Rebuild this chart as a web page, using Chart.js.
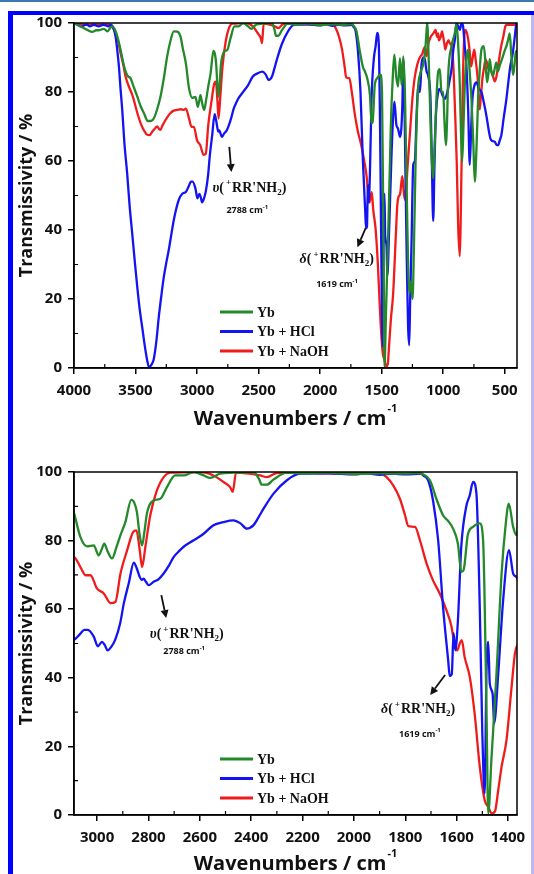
<!DOCTYPE html>
<html>
<head>
<meta charset="utf-8">
<script src="https://cdn.jsdelivr.net/npm/chart.js@4.4.1/dist/chart.umd.min.js"></script>
<style>
  html, body { margin: 0; padding: 0; background: #fff; }
  body { width: 534px; height: 874px; position: relative; overflow: hidden; }
  canvas { position: absolute; left: 0; }
  #topChart { top: 0; }
  #bottomChart { top: 437px; }
  .topline { position: absolute; left: 0; top: 0; width: 534px; height: 2px; background: #3a78b0; }
  .frame { position: absolute; left: 8px; top: 11px; width: 530px; height: 880px;
           border-left: 5px solid #0000ff; border-top: 4px solid #0000ff; }
  .rightedge { position: absolute; left: 531px; top: 15px; width: 3px; height: 859px; background: #b8b8f6; }
</style>
</head>
<body>
<canvas id="topChart" width="534" height="437"></canvas>
<canvas id="bottomChart" width="534" height="437"></canvas>
<div class="topline"></div>
<div class="frame"></div>
<div class="rightedge"></div>
<script>
// ---- FTIR spectra: wavenumber (cm-1) and transmissivity (%) ----
const ybWn = [4000,3980,3946,3920,3892,3851,3820,3797,3757,3730,3700,3689,3662,3640,3622,3600,3581,3560,3541,3520,3486,3460,3432,3400,3380,3351,3320,3297,3270,3243,3215,3189,3160,3135,3115,3091,3065,3039,3013,2994,2982,2972,2960,2942,2925,2909,2890,2867,2855,2845,2835,2825,2815,2806,2780,2754,2728,2696,2663,2624,2585,2560,2521,2469,2391,2370,2359,2339,2313,2261,2200,2100,2000,1900,1800,1756,1730,1704,1679,1653,1633,1614,1595,1582,1573,1556,1536,1510,1497,1484,1477,1464,1445,1425,1410,1397,1380,1367,1351,1338,1324,1311,1298,1285,1276,1265,1249,1237,1224,1206,1185,1167,1148,1138,1130,1118,1106,1095,1081,1070,1054,1040,1027,1014,1000,990,978,968,959,932,905,892,880,865,855,846,835,824,810,797,785,770,755,743,730,716,700,689,670,655,643,630,622,608,595,580,568,555,541,527,514,500,486,473,459,445,432,420,410,400];
const ybT  = [100,99.6,99,98.5,98,97.4,97.9,97.9,98.3,97.6,98.8,99,97.6,95,92.3,88.5,86,84.5,84,82,78.7,76,73.9,71.6,71.6,72.4,75.5,78.7,84,90.3,95,97.6,97.5,96.1,92.5,88.3,81,78.3,78.6,75.7,77.5,79.1,77,74.8,78,81.6,85.4,91.9,91,88.3,82,78.6,83,87.9,91.7,92.2,95.6,99,99,100,99,98.3,99.5,99.8,100,98,96.3,96.3,97.8,99.8,99.6,99.8,99.4,99.6,99.5,99.7,99.3,97.6,92.2,87.4,85.7,83.5,79.1,70.9,71.4,81.9,84,85,80,31.6,0.5,17,41,70.4,84,90.8,84,81.6,89.8,82,90.3,80,55,30,22,25,20,36,60,80,85.5,87.4,91.3,96,100,90,75,62,55,64,78.7,86,86.6,80,80,72,64.6,72,84.7,93.3,97.1,99.5,95,82.3,68,59.8,70,82.3,90,92.3,86,78,65,54,63,78,88,92.3,93.3,88,82.8,86,89.5,86,84.7,87,88.5,86,87.6,89,90.4,92,93.3,95,97,90,85,88,91.5,92];

const hclWn = [4000,3970,3940,3900,3870,3840,3800,3760,3720,3703,3680,3662,3648,3635,3622,3608,3590,3568,3548,3527,3505,3486,3466,3446,3425,3405,3390,3370,3351,3330,3311,3290,3270,3250,3230,3210,3189,3170,3149,3120,3091,3065,3050,3036,3013,2997,2981,2970,2959,2945,2929,2910,2896,2877,2857,2845,2834,2826,2819,2810,2799,2780,2760,2741,2720,2702,2680,2663,2624,2585,2547,2508,2469,2443,2417,2391,2370,2352,2313,2261,2210,2100,2000,1950,1900,1850,1800,1737,1730,1711,1692,1672,1653,1633,1627,1619,1612,1605,1595,1582,1563,1549,1536,1523,1510,1500,1491,1484,1477,1471,1460,1454,1438,1419,1396,1380,1367,1350,1332,1324,1316,1306,1295,1285,1276,1268,1258,1243,1230,1216,1203,1189,1176,1160,1149,1135,1122,1103,1092,1081,1070,1059,1040,1027,1005,986,966,946,932,918,905,892,878,865,851,838,824,811,797,784,772,762,745,730,710,689,670,649,630,616,600,581,565,554,540,527,510,486,470,454,440,427,415,405,400];
const hclT  = [100,99.5,99,99.6,99,99.5,99,99.5,99,99.5,98.5,96.1,92,87.4,81,74.8,65,56.4,47,39,30.5,23.5,17,11.9,6.5,2.2,0.2,1,2.7,8,14.8,21,26.4,30.5,34.2,38.5,42.9,46,48.7,50.5,51,52.9,54,54,52,49.2,50.5,49.5,48,49,51.2,56,61.7,67.5,73.6,71.8,69.4,68.5,68.9,68,67,68,68.8,70.4,72.8,75.2,77,78.2,80.1,82,84.5,85.4,85.9,85.1,83.5,84.5,87,89.3,93.7,97.6,99.5,99.6,99.3,99.6,99.2,99.5,99.3,99.5,99,97.6,91.7,80.1,60.7,45.1,40.5,41,53,48,56.8,78.2,89.8,93.2,97.1,93.7,60.7,23.8,6.3,41.3,50.5,38.3,35.4,26.7,41.3,62.6,77.2,70.4,69.4,67,75.8,89.5,80,55,30,12,6.6,20,35,58.9,60,73.2,82,80,88,90,89.5,86,84.7,78,60,42.6,60,73.2,80,80.9,79,78,80,83.7,86.6,92,95.2,100,99,98,100,99,93,87.6,75,58.9,70,78,82,82.8,81,80,77,73.2,69,66.5,65.8,65.6,64.6,64.6,66,67.5,72,78,83,87.6,90,93.3,97,100,100];

const naohWn = [4000,3960,3900,3800,3720,3690,3662,3640,3622,3600,3581,3554,3530,3514,3490,3459,3430,3405,3385,3365,3340,3324,3310,3297,3285,3270,3240,3216,3190,3162,3130,3108,3091,3065,3045,3026,3000,2974,2948,2929,2909,2883,2860,2847,2834,2825,2812,2793,2767,2741,2715,2598,2547,2508,2482,2472,2459,2365,2339,2300,2200,2100,2000,1899,1873,1847,1821,1801,1788,1762,1743,1717,1692,1666,1640,1620,1607,1598,1588,1580,1569,1549,1530,1510,1491,1477,1464,1451,1438,1425,1406,1386,1373,1364,1350,1332,1320,1311,1300,1290,1270,1250,1232,1210,1190,1170,1150,1135,1120,1101,1080,1062,1050,1040,1036,1020,1009,1000,990,983,970,957,944,931,918,904,890,878,865,858,852,845,839,830,818,800,785,773,760,747,735,721,710,703,695,682,668,655,640,630,616,600,590,582,570,560,550,530,511,495,485,450,420,400];
const naohT  = [100,99.8,99.5,99.5,99.5,99,97.1,94.5,91.3,88,84.5,81.6,79.5,77.7,74.5,71,68.8,67.6,67.5,68.5,69.5,70,69.3,69,70,71,72.8,73.9,74.6,74.8,75,74.8,75.2,72.3,69.9,69.9,66,64.6,61.8,62.1,70.4,77.2,82.5,83,77.2,72.3,78.2,87.4,94.7,98.5,99.8,100,99,97.1,95.6,94.2,99.8,99,98.5,99.7,99.8,99.6,99.8,99.6,98.5,96.1,92.2,87.4,84.2,84,80.1,73.3,68.4,64.6,59.7,54.9,49,48,50,51,46.1,40.3,29.6,14.1,4.4,2.4,0.5,1,7.3,14.1,21.8,37.4,47.1,49.5,50.5,55.6,51,48.8,52,58,68,78,84,88,90,91,93,90.4,94,96,97,98,96,97,95,96,97.6,96,94,92.3,94,95,94,93.2,88,75,60,41,32.4,42,55.6,72,84.5,95,98,96,92,87.4,90,92.3,89,84.5,78,75,78,83.6,87,89.4,88,86.5,86.5,85,84,83.1,84,86,88.4,93,96.1,99,99.5,99.5,99.5,100];

// ---- axes ----
const topTicksX    = [4000,3500,3000,2500,2000,1500,1000,500];
const topMinorX    = [3750,3250,2750,2250,1750,1250,750];
const bottomTicksX = [3000,2800,2600,2400,2200,2000,1800,1600,1400];
const bottomMinorX = [2900,2700,2500,2300,2100,1900,1700,1500];
const ticksY = [0,20,40,60,80,100];
const minorY = [10,30,50,70,90];

const seriesNames  = ['Yb', 'Yb + HCl', 'Yb + NaOH'];
const seriesColors = ['#23892a', '#1414f2', '#f01c1c'];

// ---- band assignments (arrow start, arrow tip, label anchors; wavenumber / %) ----
const topNotes = [
  { greek: 'υ', arrow: [[2738, 64.1], [2721, 56.8]], label: [2575, 52.5], pos: [2592, 45.8], wn: '2788' },
  { greek: 'δ', arrow: [[1629, 40.6], [1697, 35.0]], label: [1865, 31.8], pos: [1862, 24.5], wn: '1619' }
];
const bottomNotes = [
  { greek: 'υ', arrow: [[2750, 64.1], [2731, 57.4]], label: [2651, 53.0], pos: [2661, 47.8], wn: '2788' },
  { greek: 'δ', arrow: [[1645, 40.8], [1703, 35.0]], label: [1750, 31.1], pos: [1743, 23.8], wn: '1619' }
];

const SANS = '"Open Sans", "DejaVu Sans", sans-serif';
const SERIF = '"Liberation Serif", "DejaVu Serif", serif';

function points(wn, t) { return wn.map((w, i) => ({ x: w, y: t[i] })); }

function drawRich(ctx, parts, cx, cy, size) {
  const fontFor = p => {
    const s = (p.sup || p.sub) ? Math.round(size * 0.62) : size;
    return (p.italic ? 'italic ' : '') + 'bold ' + s + 'px ' + p.family;
  };
  let total = 0;
  parts.forEach(p => { ctx.font = fontFor(p); p.w = ctx.measureText(p.t).width; total += p.w + (p.gap || 0); });
  let x = cx - total / 2;
  ctx.textBaseline = 'alphabetic';
  ctx.textAlign = 'left';
  parts.forEach(p => {
    ctx.font = fontFor(p);
    let y = cy + size * 0.35;
    if (p.sup) y -= size * 0.45;
    if (p.sub) y += size * 0.22;
    ctx.fillText(p.t, x, y);
    x += p.w + (p.gap || 0);
  });
}

const framePlugin = {
  id: 'frameAndDecor',
  afterDatasetsDraw(chart, args, opts) {
    const { ctx, chartArea: ca, scales } = chart;
    ctx.save();
    ctx.strokeStyle = '#000';
    ctx.lineWidth = 1.5;
    ctx.strokeRect(ca.left, ca.top, ca.right - ca.left, ca.bottom - ca.top);
    // inward minor ticks
    ctx.lineWidth = 1.2;
    ctx.beginPath();
    opts.minorX.forEach(v => {
      const px = scales.x.getPixelForValue(v);
      ctx.moveTo(px, ca.bottom); ctx.lineTo(px, ca.bottom - 4);
    });
    opts.minorY.forEach(v => {
      const py = scales.y.getPixelForValue(v);
      ctx.moveTo(ca.left, py); ctx.lineTo(ca.left + 4, py);
    });
    ctx.stroke();
    ctx.restore();
  },
  afterDraw(chart, args, opts) {
    const { ctx, chartArea: ca, scales } = chart;
    ctx.save();
    ctx.fillStyle = '#111';
    // x-axis title with superscript
    const main = 'Wavenumbers / cm', sup = '-1';
    ctx.font = 'bold 20px ' + SANS;
    const mw = ctx.measureText(main).width;
    ctx.font = 'bold 11px ' + SANS;
    const sw = ctx.measureText(sup).width;
    const x0 = (ca.left + ca.right) / 2 - (mw + sw + 1) / 2;
    const ty = ca.bottom + opts.titleDy;
    ctx.textBaseline = 'middle'; ctx.textAlign = 'left';
    ctx.font = 'bold 20px ' + SANS;
    ctx.fillText(main, x0, ty);
    ctx.font = 'bold 11px ' + SANS;
    ctx.fillText(sup, x0 + mw + 1, ty - 10);

    // legend inside the plot
    const offs = [56, 36.5, 17];
    chart.data.datasets.forEach((ds, i) => {
      const y = ca.bottom - offs[i];
      ctx.strokeStyle = ds.borderColor; ctx.lineWidth = 3;
      ctx.beginPath(); ctx.moveTo(ca.left + 146, y); ctx.lineTo(ca.left + 179, y); ctx.stroke();
      ctx.fillStyle = '#111';
      ctx.font = 'bold 14px ' + SERIF;
      ctx.textBaseline = 'middle';
      ctx.fillText(ds.label, ca.left + 183, y + 1);
    });

    // band assignments with arrows
    opts.notes.forEach(n => {
      const px = v => scales.x.getPixelForValue(v[0]);
      const py = v => scales.y.getPixelForValue(v[1]);
      const [a, b] = n.arrow;
      const ax = px(a), ay = py(a), bx = px(b), by = py(b);
      const ang = Math.atan2(by - ay, bx - ax);
      const hl = 8, hw = 4;
      const sx = bx - hl * Math.cos(ang), sy = by - hl * Math.sin(ang);
      ctx.strokeStyle = '#111'; ctx.lineWidth = 1.8;
      ctx.beginPath(); ctx.moveTo(ax, ay); ctx.lineTo(sx, sy); ctx.stroke();
      ctx.fillStyle = '#111';
      ctx.beginPath();
      ctx.moveTo(bx, by);
      ctx.lineTo(sx + hw * Math.sin(ang), sy - hw * Math.cos(ang));
      ctx.lineTo(sx - hw * Math.sin(ang), sy + hw * Math.cos(ang));
      ctx.closePath(); ctx.fill();

      drawRich(ctx, [
        { t: n.greek, italic: true, family: SERIF },
        { t: '(', family: SERIF, gap: 2 },
        { t: '+', sup: true, family: SERIF, gap: 1 },
        { t: "RR'NH", family: SERIF },
        { t: '2', sub: true, family: SERIF },
        { t: ')', family: SERIF }
      ], px(n.label), py(n.label), 14);
      drawRich(ctx, [
        { t: n.wn + ' cm', family: SANS },
        { t: '-1', sup: true, family: SANS }
      ], px(n.pos), py(n.pos), 9);
    });
    ctx.restore();
  }
};

function makeChart(id, cfg) {
  const datasets = [
    { label: seriesNames[0], data: points(ybWn, ybT), borderColor: seriesColors[0], order: 1 },
    { label: seriesNames[1], data: points(hclWn, hclT), borderColor: seriesColors[1], order: 2 },
    { label: seriesNames[2], data: points(naohWn, naohT), borderColor: seriesColors[2], order: 3 }
  ].map(d => Object.assign(d, { showLine: true, pointRadius: 0, borderWidth: 2.3, fill: false,
                                cubicInterpolationMode: 'monotone' }));
  const tickFont = { family: SANS, size: 15, weight: 'bold' };
  const plain = v => String(v);
  return new Chart(document.getElementById(id), {
    type: 'scatter',
    data: { datasets },
    plugins: [framePlugin],
    options: {
      responsive: false,
      animation: false,
      devicePixelRatio: 1,
      layout: { padding: { left: 14, right: 17, top: cfg.padTop, bottom: 0 } },
      plugins: {
        legend: { display: false },
        tooltip: { enabled: false },
        frameAndDecor: { minorX: cfg.minorX, minorY: minorY, notes: cfg.notes, titleDy: cfg.titleDy }
      },
      scales: {
        x: {
          type: 'linear', reverse: true, min: cfg.xMin, max: cfg.xMax,
          afterBuildTicks: s => { s.ticks = cfg.ticksX.map(v => ({ value: v })); },
          afterFit: s => { s.height = cfg.xHeight; },
          ticks: { autoSkip: false, maxRotation: 0, minRotation: 0, padding: 8, color: '#111',
                   font: tickFont, callback: plain },
          grid: { drawOnChartArea: false, drawTicks: true, tickLength: 6, color: '#000', lineWidth: 1.5 },
          border: { display: true, color: '#000', width: 1.5 }
        },
        y: {
          min: 0, max: 100,
          afterBuildTicks: s => { s.ticks = ticksY.map(v => ({ value: v })); },
          afterFit: s => { s.width = 60; },
          ticks: { padding: 6, color: '#111', font: tickFont, callback: plain },
          grid: { drawOnChartArea: false, drawTicks: true, tickLength: 6, color: '#000', lineWidth: 1.5 },
          border: { display: true, color: '#000', width: 1.5 },
          title: { display: true, text: 'Transmissivity / %', color: '#111',
                   font: { family: SANS, size: 18, weight: 'bold' }, padding: { top: 2, bottom: 0 } }
        }
      }
    }
  });
}

makeChart('topChart', {
  xMin: 400, xMax: 4000, ticksX: topTicksX, minorX: topMinorX,
  padTop: 23, xHeight: 69, titleDy: 51, notes: topNotes
});
makeChart('bottomChart', {
  xMin: 1365, xMax: 3090, ticksX: bottomTicksX, minorX: bottomMinorX,
  padTop: 35, xHeight: 59, titleDy: 49, notes: bottomNotes
});
</script>
</body>
</html>
